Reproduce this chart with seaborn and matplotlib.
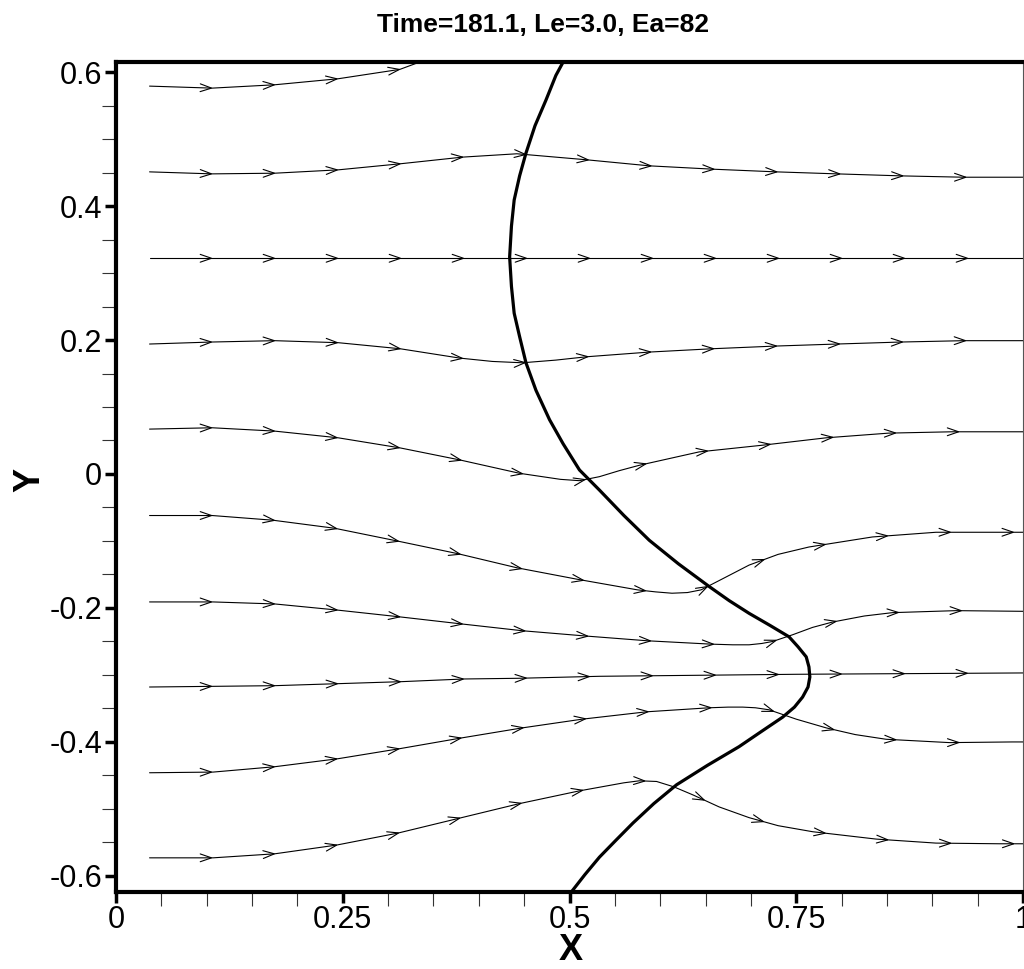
import numpy as np
import pandas as pd
import matplotlib
matplotlib.use("Agg")
import matplotlib.pyplot as plt
import seaborn as sns
from matplotlib.ticker import MultipleLocator, FixedLocator, FixedFormatter

# ---------------- data ----------------
title_text = "Time=181.1, Le=3.0, Ea=82"

s1_x = [0.037, 0.106, 0.175, 0.245, 0.313, 0.345]
s1_y = [0.579, 0.576, 0.581, 0.590, 0.604, 0.620]

s2_x = [0.037, 0.106, 0.175, 0.245, 0.313, 0.382, 0.442, 0.519, 0.588, 0.658, 0.728, 0.795, 0.866, 0.935, 1.0]
s2_y = [0.451, 0.448, 0.449, 0.454, 0.463, 0.473, 0.478, 0.469, 0.460, 0.455, 0.451, 0.448, 0.445, 0.443, 0.443]

s3_x = [0.037, 0.25, 0.5, 0.75, 1.0]
s3_y = [0.322, 0.322, 0.322, 0.322, 0.322]

s4_x = [0.037, 0.106, 0.175, 0.245, 0.313, 0.379, 0.415, 0.448, 0.485, 0.519, 0.588, 0.658, 0.728, 0.795, 0.866, 0.935, 1.0]
s4_y = [0.194, 0.197, 0.199, 0.196, 0.187, 0.173, 0.168, 0.166, 0.170, 0.175, 0.182, 0.187, 0.191, 0.194, 0.197, 0.199, 0.199]

s5_x = [0.037, 0.106, 0.175, 0.245, 0.313, 0.379, 0.445, 0.490, 0.511, 0.533, 0.555, 0.577, 0.643, 0.713, 0.783, 0.852, 0.922, 1.0]
s5_y = [0.067, 0.069, 0.064, 0.054, 0.039, 0.021, 0.001, -0.008, -0.010, -0.004, 0.005, 0.013, 0.033, 0.043, 0.054, 0.061, 0.063, 0.063]

s6_x = [0.037, 0.106, 0.173, 0.241, 0.310, 0.377, 0.442, 0.508, 0.575, 0.595, 0.613, 0.630, 0.645, 0.668, 0.698, 0.730, 0.764, 0.834, 0.904, 0.974, 1.0]
s6_y = [-0.062, -0.062, -0.069, -0.081, -0.100, -0.119, -0.140, -0.157, -0.173, -0.176, -0.178, -0.177, -0.173, -0.157, -0.136, -0.120, -0.109, -0.094, -0.087, -0.087, -0.087]

s7_x = [0.037, 0.107, 0.175, 0.243, 0.311, 0.382, 0.448, 0.519, 0.586, 0.656, 0.680, 0.698, 0.712, 0.724, 0.746, 0.768, 0.790, 0.825, 0.856, 0.926, 1.0]
s7_y = [-0.191, -0.191, -0.194, -0.203, -0.213, -0.224, -0.234, -0.242, -0.249, -0.254, -0.255, -0.255, -0.253, -0.250, -0.240, -0.229, -0.221, -0.212, -0.207, -0.204, -0.205]

s8_x = [0.037, 0.107, 0.175, 0.245, 0.315, 0.384, 0.443, 0.533, 0.75, 1.0]
s8_y = [-0.318, -0.317, -0.316, -0.313, -0.310, -0.306, -0.305, -0.302, -0.299, -0.297]

s9_x = [0.037, 0.107, 0.175, 0.245, 0.313, 0.381, 0.448, 0.514, 0.585, 0.654, 0.675, 0.691, 0.705, 0.720, 0.750, 0.783, 0.815, 0.849, 0.919, 0.988, 1.0]
s9_y = [-0.446, -0.445, -0.437, -0.425, -0.410, -0.394, -0.379, -0.366, -0.355, -0.349, -0.348, -0.348, -0.349, -0.352, -0.366, -0.379, -0.389, -0.396, -0.401, -0.400, -0.400]

s10_x = [0.037, 0.107, 0.175, 0.243, 0.311, 0.378, 0.445, 0.511, 0.560, 0.577, 0.596, 0.615, 0.636, 0.665, 0.698, 0.730, 0.768, 0.838, 0.904, 0.974, 1.0]
s10_y = [-0.573, -0.573, -0.567, -0.554, -0.536, -0.514, -0.492, -0.473, -0.461, -0.458, -0.459, -0.467, -0.479, -0.497, -0.513, -0.525, -0.534, -0.545, -0.551, -0.552, -0.552]

front_x = [0.497, 0.485, 0.474, 0.462, 0.452, 0.445, 0.439, 0.436, 0.434, 0.436, 0.439, 0.445, 0.452, 0.463,
           0.478, 0.493, 0.511, 0.533, 0.560, 0.588, 0.620, 0.654, 0.676, 0.698, 0.721, 0.742, 0.752, 0.761,
           0.764, 0.765, 0.763, 0.757, 0.748, 0.735, 0.712, 0.687, 0.652, 0.618, 0.593, 0.570, 0.551, 0.533,
           0.517, 0.502, 0.499]
front_y = [0.625, 0.595, 0.558, 0.520, 0.479, 0.445, 0.409, 0.370, 0.324, 0.280, 0.240, 0.205, 0.166, 0.125,
           0.081, 0.045, 0.006, -0.024, -0.062, -0.099, -0.134, -0.168, -0.189, -0.208, -0.226, -0.243, -0.258, -0.273,
           -0.288, -0.303, -0.318, -0.333, -0.348, -0.363, -0.384, -0.407, -0.435, -0.464, -0.492, -0.521, -0.547, -0.572,
           -0.598, -0.624, -0.630]

x_ticks = [0, 0.25, 0.5, 0.75, 1.0]
x_tick_labels = ["0", "0.25", "0.5", "0.75", "1"]
y_ticks = [-0.6, -0.4, -0.2, 0, 0.2, 0.4, 0.6]
y_tick_labels = ["-0.6", "-0.4", "-0.2", "0", "0.2", "0.4", "0.6"]

streams = [(s1_x, s1_y), (s2_x, s2_y), (s3_x, s3_y), (s4_x, s4_y), (s5_x, s5_y),
           (s6_x, s6_y), (s7_x, s7_y), (s8_x, s8_y), (s9_x, s9_y), (s10_x, s10_y)]

# ---------------- figure ----------------
sns.set_theme(style="white")
plt.rcParams["font.family"] = ["Liberation Sans", "DejaVu Sans"]
plt.rcParams["text.color"] = "black"
plt.rcParams["axes.labelcolor"] = "black"

W, H = 1024, 969
fig = plt.figure(figsize=(W / 100, H / 100), dpi=100)
ax = fig.add_axes([116 / W, (H - 892) / H, 907 / W, 830 / H])

rows = []
for k, (xs, ys) in enumerate(streams):
    for i, (a, b) in enumerate(zip(xs, ys)):
        rows.append({"x": a, "y": b, "line": k, "order": i})
df = pd.DataFrame(rows)
sns.lineplot(data=df, x="x", y="y", units="line", estimator=None, sort=False,
             color="black", linewidth=0.8, ax=ax, legend=False)

front = pd.DataFrame({"x": front_x, "y": front_y})
sns.lineplot(data=front, x="x", y="y", estimator=None, sort=False,
             color="black", linewidth=2.3, ax=ax, legend=False)
for ln in ax.get_lines():
    ln.set_solid_joinstyle("round")

ax.set_xlim(0, 1)
ax.set_ylim(-0.624, 0.615)

# arrowheads placed at regular arc length along each streamline
inv = ax.transData.inverted()
bbox = ax.get_window_extent()
L, ang = 12.0, np.deg2rad(19)
for xs, ys in streams:
    pts = ax.transData.transform(np.column_stack([xs, ys]))
    seg = np.diff(pts, axis=0)
    sl = np.hypot(seg[:, 0], seg[:, 1])
    cum = np.concatenate([[0], np.cumsum(sl)])
    s = 62.0
    while s < cum[-1] - 2:
        i = min(np.searchsorted(cum, s) - 1, len(sl) - 1)
        t = (s - cum[i]) / sl[i]
        tip = pts[i] + t * seg[i]
        d = seg[i] / sl[i]
        if bbox.x0 < tip[0] < bbox.x1 - 3 and bbox.y0 < tip[1] < bbox.y1:
            wings = []
            for sg in (1, -1):
                c, sn = np.cos(sg * ang), np.sin(sg * ang)
                r = np.array([d[0] * c - d[1] * sn, d[0] * sn + d[1] * c])
                wings.append(tip - L * r)
            p = inv.transform(np.array([wings[0], tip, wings[1]]))
            ax.plot(p[:, 0], p[:, 1], color="black", lw=0.8, solid_joinstyle="miter")
        s += 63.0

# axes styling
for side in ("left", "bottom", "top"):
    ax.spines[side].set_linewidth(3.0)
    ax.spines[side].set_color("black")
ax.spines["right"].set_linewidth(0.8)
ax.spines["right"].set_color("#555555")

ax.xaxis.set_major_locator(FixedLocator(x_ticks))
ax.xaxis.set_major_formatter(FixedFormatter(x_tick_labels))
ax.yaxis.set_major_locator(FixedLocator(y_ticks))
ax.yaxis.set_major_formatter(FixedFormatter(y_tick_labels))
ax.xaxis.set_minor_locator(MultipleLocator(0.05))
ax.yaxis.set_minor_locator(MultipleLocator(0.05))
ax.tick_params(which="major", direction="out", length=8, width=2.5, color="black",
               labelsize=22, labelcolor="black", left=True, bottom=True, top=False, right=False)
ax.tick_params(axis="y", which="major", pad=2)
ax.tick_params(axis="x", which="major", pad=1)
ax.tick_params(which="minor", direction="out", length=10, width=0.8, color="#333333",
               left=True, bottom=True, top=False, right=False)

ax.set_xlabel("X", fontsize=26, fontweight="bold")
ax.xaxis.label.set_va("center")
ax.xaxis.set_label_coords((571 - 116) / 907, (892 - 951) / 830)
ax.set_ylabel("Y", fontsize=26, fontweight="bold")
ax.yaxis.label.set_va("center")
ax.yaxis.set_label_coords((30 - 116) / 907, (892 - 480) / 830)

fig.text(543 / W, 1 - 25 / H, title_text, ha="center", va="center",
         fontsize=19, fontweight="bold", color="black")

fig.savefig("out.png", dpi=100)
